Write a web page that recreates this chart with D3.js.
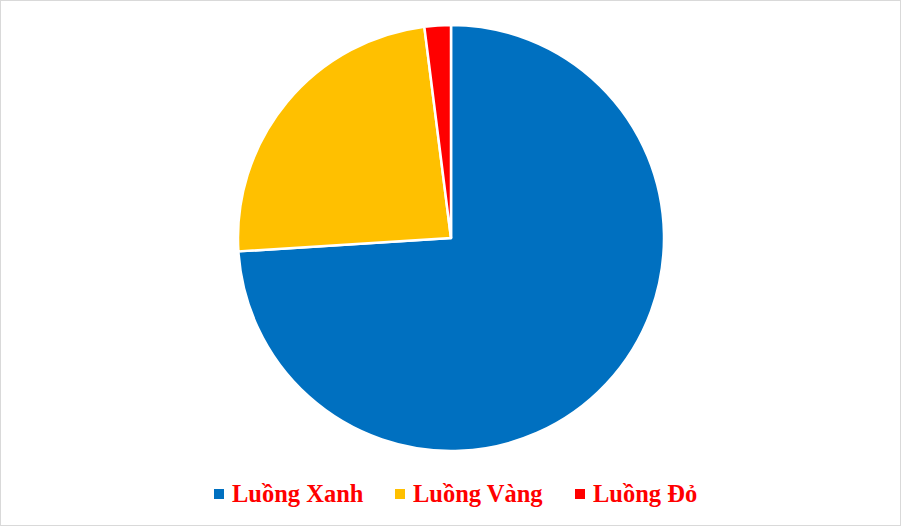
<!DOCTYPE html>
<html>
<head>
<meta charset="utf-8">
<script src="https://cdn.jsdelivr.net/npm/d3@7"></script>
<style>
  html, body { margin: 0; padding: 0; background: #fff; }
  svg { display: block; }
</style>
</head>
<body>
<svg id="chart" width="902" height="527"></svg>
<script>
const categories = ["Luồng Xanh", "Luồng Vàng", "Luồng Đỏ"];
const values = [74.0, 24.0, 2.0];
const colors = ["#0070C0", "#FFC000", "#FF0000"];

const svg = d3.select("#chart");

svg.append("rect")
  .attr("x", 0.5).attr("y", 0.5)
  .attr("width", 900).attr("height", 525)
  .attr("fill", "#fff").attr("stroke", "#d9d9d9").attr("stroke-width", 1);

const cx = 451, cy = 238, r = 213;
const data = categories.map((c, i) => ({ cat: c, value: values[i], color: colors[i] }));

const pie = d3.pie().value(d => d.value).sort(null);
const arc = d3.arc().innerRadius(0).outerRadius(r);

const g = svg.append("g").attr("transform", `translate(${cx},${cy})`);
g.selectAll("path")
  .data(pie(data))
  .join("path")
  .attr("d", arc)
  .attr("fill", d => d.data.color)
  .attr("stroke", "#fff")
  .attr("stroke-width", 2.5)
  .attr("stroke-linejoin", "round");

// Legend
const legendX = [214, 395, 575];
const legend = svg.append("g");
data.forEach((d, i) => {
  legend.append("rect")
    .attr("x", legendX[i]).attr("y", 489)
    .attr("width", 10).attr("height", 10)
    .attr("fill", d.color);
  legend.append("text")
    .attr("x", legendX[i] + 18).attr("y", 502)
    .attr("font-family", "'Liberation Serif', 'Times New Roman', serif")
    .attr("font-weight", "bold")
    .attr("font-size", "24.5px")
    .attr("fill", "#FF0000")
    .text(d.cat);
});
</script>
</body>
</html>
